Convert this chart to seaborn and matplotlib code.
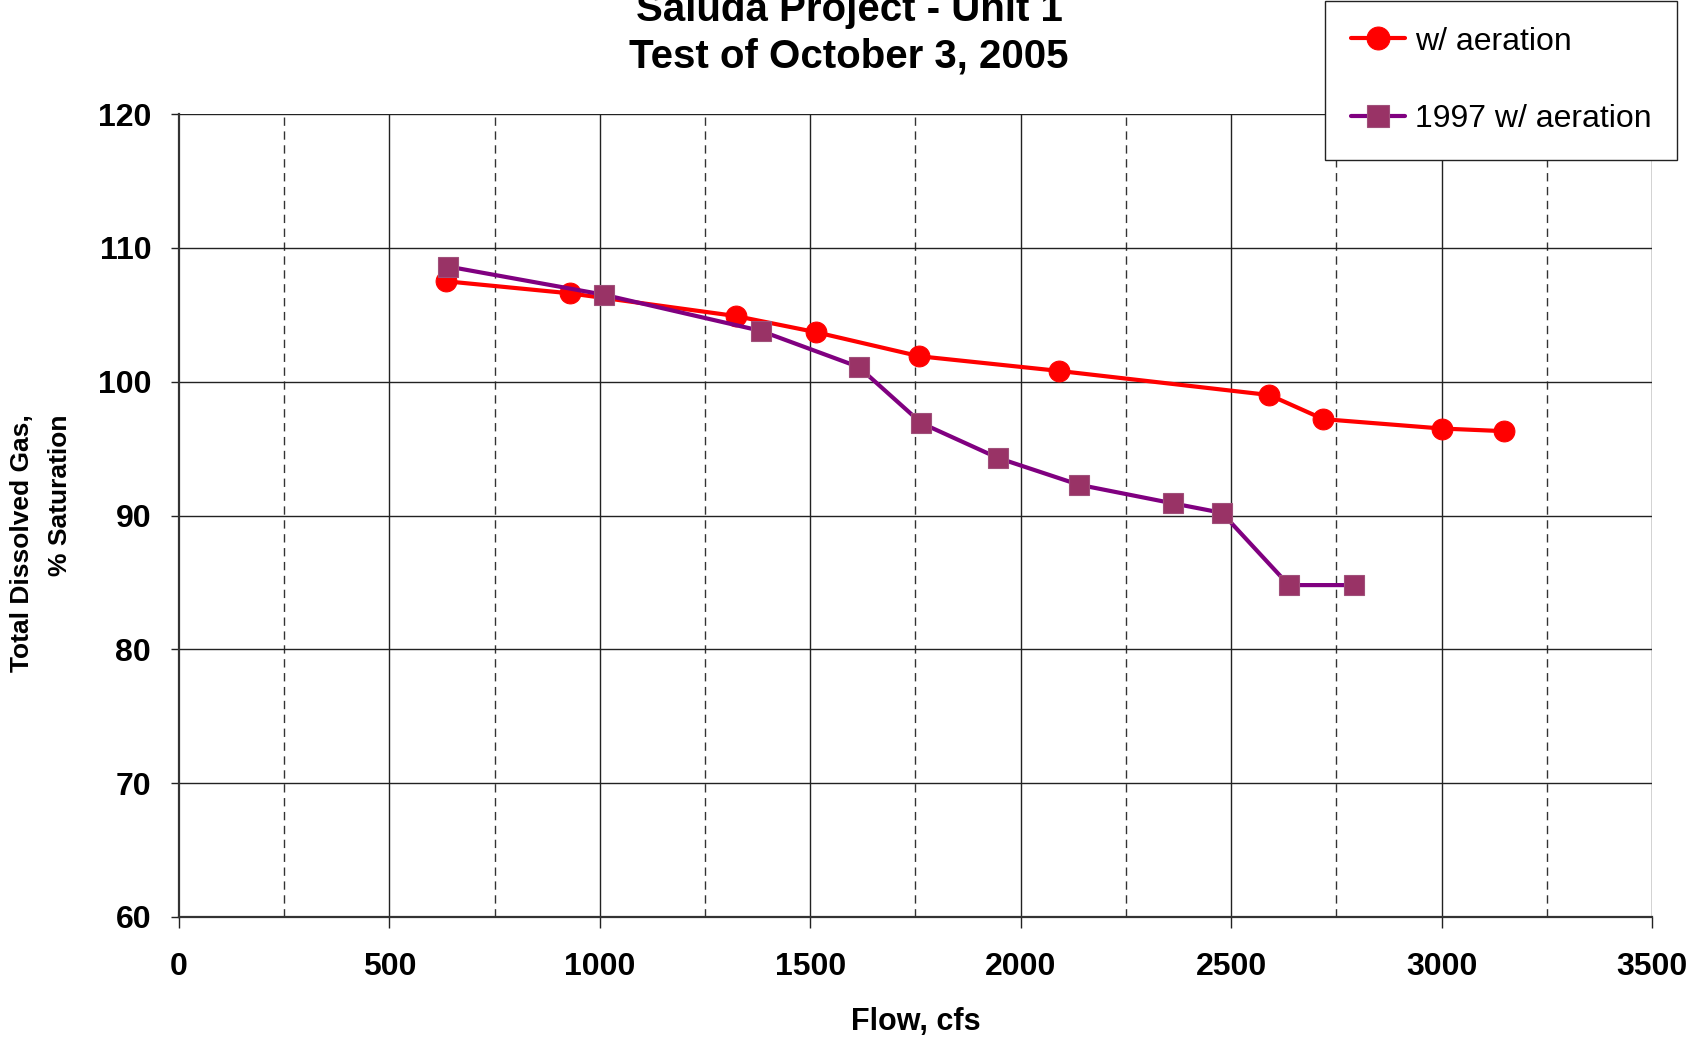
import matplotlib
matplotlib.use("Agg")
import matplotlib.pyplot as plt
import seaborn as sns
import pandas as pd

# Data
flow_2005 = [635, 929, 1324, 1513, 1759, 2092, 2591, 2719, 3000, 3149]
tdg_2005 = [107.5, 106.6, 104.9, 103.7, 101.9, 100.8, 99.0, 97.2, 96.5, 96.3]
flow_1997 = [640, 1009, 1382, 1615, 1764, 1946, 2138, 2363, 2478, 2637, 2793]
tdg_1997 = [108.6, 106.5, 103.8, 101.1, 96.9, 94.3, 92.3, 90.9, 90.2, 84.8, 84.8]
label_2005 = "w/ aeration"
label_1997 = "1997 w/ aeration"
x_ticks = [0, 500, 1000, 1500, 2000, 2500, 3000, 3500]
x_minor = [250, 750, 1250, 1750, 2250, 2750, 3250]
y_ticks = [60, 70, 80, 90, 100, 110, 120]

sns.set_theme(style="white")
plt.rcParams['font.family'] = ['Liberation Sans', 'DejaVu Sans']
plt.rcParams['text.color'] = 'black'
plt.rcParams['xtick.color'] = 'black'
plt.rcParams['ytick.color'] = 'black'
plt.rcParams['axes.labelcolor'] = 'black'

W, H = 1690, 1038
fig = plt.figure(figsize=(W / 100, H / 100), dpi=100)
ax = fig.add_axes([179 / W, 1 - 917 / H, (1652 - 179) / W, (917 - 114) / H])

df05 = pd.DataFrame({"flow": flow_2005, "tdg": tdg_2005})
df97 = pd.DataFrame({"flow": flow_1997, "tdg": tdg_1997})

# grid
for xm in x_minor:
    ax.axvline(xm, color="#333333", lw=1.0, ls=(0, (6, 4)), zorder=0)
for xt in x_ticks[1:]:
    ax.axvline(xt, color="#222222", lw=1.0, zorder=0)
for yt in y_ticks[1:]:
    ax.axhline(yt, color="#222222", lw=1.0, zorder=0)

sns.lineplot(data=df05, x="flow", y="tdg", ax=ax, color="#FF0000", lw=3,
             marker="o", markersize=15, markerfacecolor="#FF0000",
             markeredgecolor="#FF0000", label=label_2005, estimator=None, sort=False, zorder=3)
sns.lineplot(data=df97, x="flow", y="tdg", ax=ax, color="#800080", lw=3,
             marker="s", markersize=14, markerfacecolor="#993366",
             markeredgecolor="#A0507A", markeredgewidth=0.8,
             label=label_1997, estimator=None, sort=False, zorder=4)

ax.set_xlim(0, 3500)
ax.set_ylim(60, 120)
ax.set_xticks(x_ticks)
ax.set_yticks(y_ticks)
ax.set_xticklabels([str(v) for v in x_ticks], fontsize=23, fontweight="bold")
ax.set_yticklabels([str(v) for v in y_ticks], fontsize=23, fontweight="bold")
ax.tick_params(axis="x", direction="out", length=8, width=1, color="#222222", pad=17, bottom=True)
ax.tick_params(axis="y", direction="out", length=6, width=1, color="#222222", pad=14, left=True)

for s in ["top", "right"]:
    ax.spines[s].set_visible(False)
for s in ["left", "bottom"]:
    ax.spines[s].set_color("#333333")
    ax.spines[s].set_linewidth(1.6)

ax.set_xlabel("")
ax.set_ylabel("")

fig.text(916 / W, 1 - 1022 / H, "Flow, cfs", ha="center", va="center",
         fontsize=22, fontweight="bold")
fig.text(41 / W, 1 - 543 / H, "Total Dissolved Gas,\n% Saturation", rotation=90,
         ha="center", va="center", multialignment="right", fontsize=19,
         fontweight="bold", linespacing=1.75)
fig.text(849 / W, 1 - 10 / H, "Saluda Project - Unit 1", ha="center", va="center",
         fontsize=29, fontweight="bold")
fig.text(849 / W, 1 - 57 / H, "Test of October 3, 2005", ha="center", va="center",
         fontsize=29, fontweight="bold")

leg = ax.legend(loc="lower right", bbox_to_anchor=(1677 / W, 1 - 160 / H),
                bbox_transform=fig.transFigure, borderaxespad=0, fontsize=23,
                frameon=True, fancybox=False, edgecolor="#222222", framealpha=1,
                handlelength=1.7, handletextpad=0.3, labelspacing=1.5,
                borderpad=0.8, markerscale=1.1)
leg.get_frame().set_linewidth(1.0)

fig.savefig("out.png", dpi=100)
